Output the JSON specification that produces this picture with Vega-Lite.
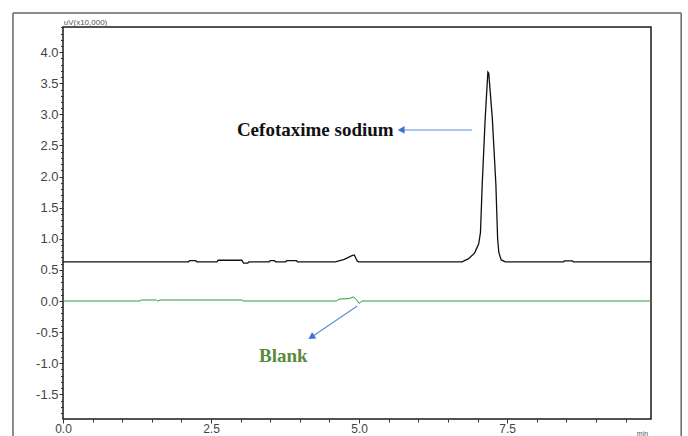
{
  "$schema": "https://vega.github.io/schema/vega-lite/v6.json",
  "width": 588,
  "height": 392,
  "autosize": {"type": "none"},
  "padding": {"left": 63, "top": 27, "right": 37, "bottom": 17},
  "background": "white",
  "config": {
    "view": {"stroke": "#1a1a1a", "strokeWidth": 1.5},
    "axis": {"grid": false, "domain": false, "labelFont": "Liberation Sans", "labelColor": "#444", "tickColor": "#333", "titleFont": "Liberation Sans", "titleColor": "#555", "titleFontWeight": "normal"}
  },
  "datasets": {
    "sample": [
      {"t": 0, "v": 0.63}, {"t": 2.12, "v": 0.63}, {"t": 2.14, "v": 0.65}, {"t": 2.24, "v": 0.65}, {"t": 2.26, "v": 0.63},
      {"t": 2.6, "v": 0.63}, {"t": 2.62, "v": 0.655}, {"t": 3.02, "v": 0.655}, {"t": 3.05, "v": 0.61}, {"t": 3.12, "v": 0.61},
      {"t": 3.14, "v": 0.63}, {"t": 3.48, "v": 0.63}, {"t": 3.5, "v": 0.65}, {"t": 3.57, "v": 0.65}, {"t": 3.59, "v": 0.63},
      {"t": 3.76, "v": 0.63}, {"t": 3.78, "v": 0.65}, {"t": 3.94, "v": 0.65}, {"t": 3.96, "v": 0.63}, {"t": 4.6, "v": 0.63},
      {"t": 4.75, "v": 0.67}, {"t": 4.88, "v": 0.73}, {"t": 4.92, "v": 0.74}, {"t": 4.97, "v": 0.64}, {"t": 5.0, "v": 0.63},
      {"t": 6.74, "v": 0.63}, {"t": 6.85, "v": 0.68}, {"t": 6.95, "v": 0.77}, {"t": 7.02, "v": 0.92}, {"t": 7.05, "v": 1.1},
      {"t": 7.08, "v": 1.88}, {"t": 7.13, "v": 2.94}, {"t": 7.175, "v": 3.68}, {"t": 7.19, "v": 3.66}, {"t": 7.25, "v": 2.94},
      {"t": 7.31, "v": 1.88}, {"t": 7.34, "v": 1.0}, {"t": 7.36, "v": 0.78}, {"t": 7.4, "v": 0.66}, {"t": 7.47, "v": 0.63},
      {"t": 8.45, "v": 0.63}, {"t": 8.47, "v": 0.645}, {"t": 8.6, "v": 0.645}, {"t": 8.62, "v": 0.63}, {"t": 9.93, "v": 0.63}
    ],
    "blank": [
      {"t": 0, "v": 0}, {"t": 1.3, "v": 0}, {"t": 1.32, "v": 0.016}, {"t": 1.58, "v": 0.016}, {"t": 1.6, "v": 0.0},
      {"t": 1.64, "v": 0.016}, {"t": 3.02, "v": 0.016}, {"t": 3.05, "v": 0}, {"t": 4.62, "v": 0}, {"t": 4.66, "v": 0.03},
      {"t": 4.84, "v": 0.04}, {"t": 4.9, "v": 0.065}, {"t": 4.96, "v": 0.02}, {"t": 5.0, "v": -0.04}, {"t": 5.05, "v": 0},
      {"t": 9.93, "v": 0}
    ],
    "labels": [
      {"label": "Cefotaxime sodium", "t": 4.26, "v": 2.75, "kind": "sample"},
      {"label": "Blank", "t": 3.72, "v": -0.88, "kind": "blank"}
    ],
    "arrows": [
      {"t1": 6.91, "v1": 2.75, "t2": 5.73, "v2": 2.75, "dir": 270},
      {"t1": 4.97, "v1": -0.08, "t2": 4.21, "v2": -0.57, "dir": 237}
    ]
  },
  "layer": [
    {
      "data": {"name": "sample"},
      "mark": {"type": "line", "color": "#111111", "strokeWidth": 1.3, "interpolate": "linear"},
      "encoding": {
        "x": {"field": "t", "type": "quantitative", "scale": {"domain": [0, 9.93], "nice": false, "zero": false},
          "axis": {"orient": "bottom", "values": [0, 2.5, 5, 7.5], "format": ".1f", "tickSize": 4, "labelPadding": 0, "labelFontSize": 12, "labelFlush": false,
            "title": "min", "titleFontSize": 7, "titleX": 579, "titleY": 14, "titleAlign": "center", "titleBaseline": "middle"}},
        "y": {"field": "v", "type": "quantitative", "scale": {"domain": [-1.897, 4.405], "nice": false, "zero": false},
          "axis": {"orient": "left", "values": [-1.5, -1.0, -0.5, 0, 0.5, 1.0, 1.5, 2.0, 2.5, 3.0, 3.5, 4.0], "format": ".1f", "labelExpr": "replace(datum.label, '\u2212', '-')", "tickSize": 4, "labelPadding": 1, "labelFontSize": 13, "labelFlush": false,
            "title": "uV(x10,000)", "titleAngle": 0, "titleFontSize": 8, "titleX": 22, "titleY": -5, "titleAlign": "center", "titleBaseline": "middle"}}
      }
    },
    {
      "data": {"name": "blank"},
      "mark": {"type": "line", "color": "#2e9a2e", "strokeWidth": 1.0},
      "encoding": {
        "x": {"field": "t", "type": "quantitative", "scale": {"domain": [0, 9.93], "nice": false, "zero": false},
          "axis": {"orient": "bottom", "values": [0.5, 1, 1.5, 2, 3, 3.5, 4, 4.5, 5.5, 6, 6.5, 7, 8, 8.5, 9, 9.5], "labels": false, "tickSize": 3, "title": null}},
        "y": {"field": "v", "type": "quantitative", "scale": {"domain": [-1.897, 4.405], "nice": false, "zero": false},
          "axis": {"orient": "left", "values": [-1.8, -1.7, -1.6, -1.4, -1.3, -1.2, -1.1, -0.9, -0.8, -0.7, -0.6, -0.4, -0.3, -0.2, -0.1, 0.1, 0.2, 0.3, 0.4, 0.6, 0.7, 0.8, 0.9, 1.1, 1.2, 1.3, 1.4, 1.6, 1.7, 1.8, 1.9, 2.1, 2.2, 2.3, 2.4, 2.6, 2.7, 2.8, 2.9, 3.1, 3.2, 3.3, 3.4, 3.6, 3.7, 3.8, 3.9, 4.1, 4.2, 4.3, 4.4], "labels": false, "tickSize": 2.5, "title": null}}
      }
    },
    {
      "data": {"name": "arrows"},
      "mark": {"type": "rule", "color": "#5b8bd9", "strokeWidth": 1.1},
      "encoding": {
        "x": {"field": "t1", "type": "quantitative", "scale": {"domain": [0, 9.93], "nice": false, "zero": false}, "axis": null},
        "x2": {"field": "t2"},
        "y": {"field": "v1", "type": "quantitative", "scale": {"domain": [-1.897, 4.405], "nice": false, "zero": false}, "axis": null},
        "y2": {"field": "v2"}
      }
    },
    {
      "data": {"name": "arrows"},
      "mark": {"type": "point", "shape": "triangle", "filled": true, "color": "#3f72d4", "size": 60, "opacity": 1},
      "encoding": {
        "x": {"field": "t2", "type": "quantitative", "scale": {"domain": [0, 9.93], "nice": false, "zero": false}, "axis": null},
        "y": {"field": "v2", "type": "quantitative", "scale": {"domain": [-1.897, 4.405], "nice": false, "zero": false}, "axis": null},
        "angle": {"field": "dir", "type": "quantitative", "scale": null}
      }
    },
    {
      "data": {"name": "labels"},
      "mark": {"type": "text", "font": "Liberation Serif", "fontWeight": "bold", "fontSize": 19, "align": "center", "baseline": "middle"},
      "encoding": {
        "x": {"field": "t", "type": "quantitative", "scale": {"domain": [0, 9.93], "nice": false, "zero": false}, "axis": null},
        "y": {"field": "v", "type": "quantitative", "scale": {"domain": [-1.897, 4.405], "nice": false, "zero": false}, "axis": null},
        "text": {"field": "label"},
        "color": {"field": "kind", "type": "nominal", "scale": {"domain": ["sample", "blank"], "range": ["#111111", "#5a8a3c"]}, "legend": null}
      }
    },
    {
      "data": {"values": [{}]},
      "mark": {"type": "rule", "color": "#666666", "strokeWidth": 1.5},
      "encoding": {
        "x": {"datum": -0.845, "type": "quantitative", "scale": {"domain": [0, 9.93], "nice": false, "zero": false}, "axis": null},
        "y": {"datum": 4.63, "type": "quantitative", "scale": {"domain": [-1.897, 4.405], "nice": false, "zero": false}, "axis": null},
        "y2": {"datum": -2.6}
      }
    },
    {
      "data": {"values": [{}]},
      "mark": {"type": "rule", "color": "#666666", "strokeWidth": 1.5},
      "encoding": {
        "x": {"datum": 10.44, "type": "quantitative", "scale": {"domain": [0, 9.93], "nice": false, "zero": false}, "axis": null},
        "y": {"datum": 4.63, "type": "quantitative", "scale": {"domain": [-1.897, 4.405], "nice": false, "zero": false}, "axis": null},
        "y2": {"datum": -2.6}
      }
    },
    {
      "data": {"values": [{}]},
      "mark": {"type": "rule", "color": "#666666", "strokeWidth": 1.5},
      "encoding": {
        "x": {"datum": -0.845, "type": "quantitative", "scale": {"domain": [0, 9.93], "nice": false, "zero": false}, "axis": null},
        "x2": {"datum": 10.44},
        "y": {"datum": 4.63, "type": "quantitative", "scale": {"domain": [-1.897, 4.405], "nice": false, "zero": false}, "axis": null}
      }
    }
  ],
  "resolve": {"axis": {"x": "independent", "y": "independent"}}
}
